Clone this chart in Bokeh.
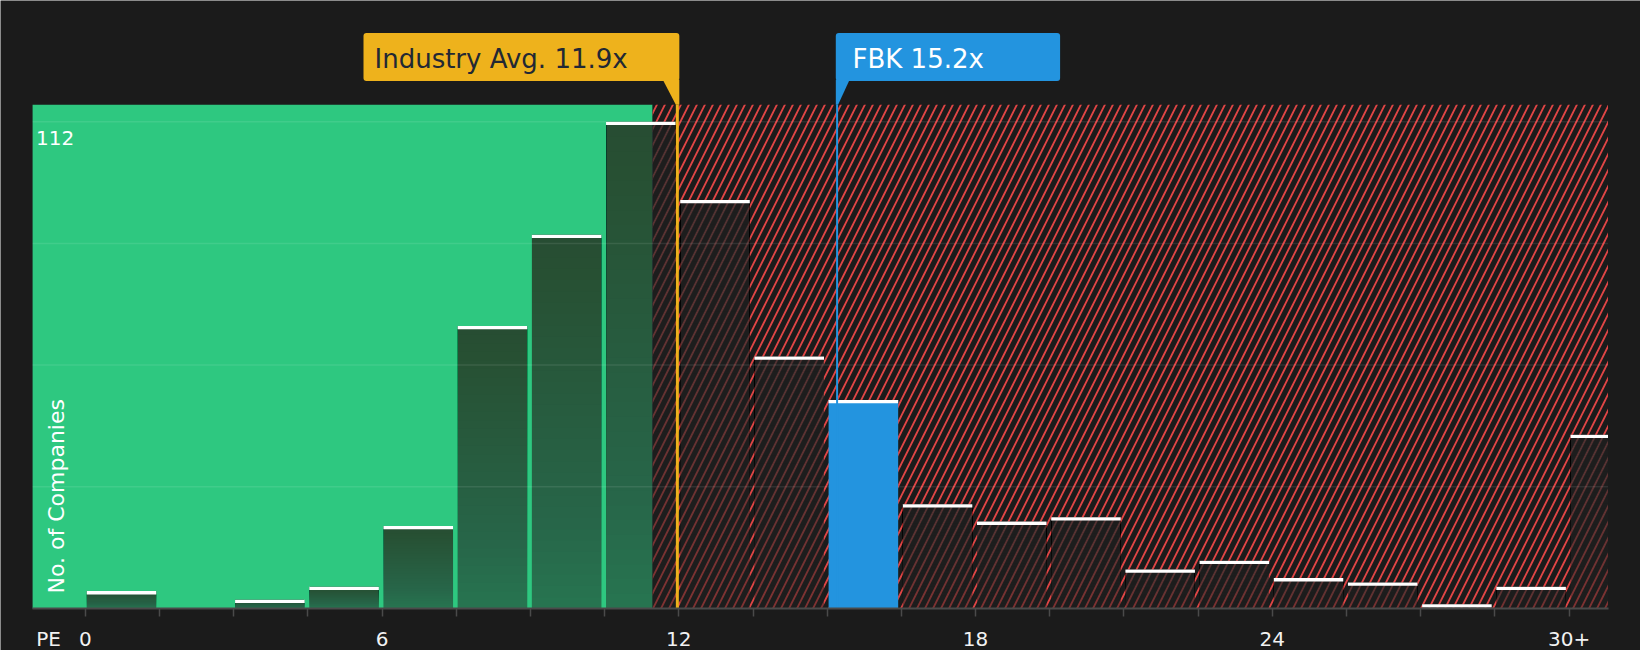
import numpy as np
from bokeh.plotting import figure
from bokeh.models import FixedTicker, Range1d, Label, BoxAnnotation
from bokeh.embed import file_html
from bokeh.resources import INLINE

# ---------------- data ----------------
bin_starts = [0, 1.5, 3, 4.5, 6, 7.5, 9, 10.5, 12, 13.5, 15, 16.5, 18, 19.5,
              21, 22.5, 24, 25.5, 27, 28.5, 30]
counts = [4, 0, 2, 5, 19, 65, 86, 112, 94, 58, 48, 24, 20, 21,
          9, 11, 7, 6, 1, 5, 40]
company_bin = 10                      # bin holding FBK (15 - 16.5)
tick_values = [0, 6, 12, 18, 24, 30]
tick_labels = ["0", "6", "12", "18", "24", "30+"]
edge_ticks = [0, 1.5, 3, 4.5, 6, 7.5, 9, 10.5, 12, 13.5, 15, 16.5, 18, 19.5,
              21, 22.5, 24, 25.5, 27, 28.5, 30]
grid_values = [28, 56, 84, 112]
y_max_label = "112"
industry_avg = 11.97
industry_text = "Industry Avg. 11.9x"
company_pe = 15.2
company_text = "FBK 15.2x"
fair_zone_end = 11.47                 # end of green zone
y_title = "No. of Companies"
x_title = "PE"

# ---------------- layout constants ----------------
W, H = 1640, 650
PXX = 49.46                      # px per PE unit
PXY = 4.346                      # px per company
X0 = 84.8                        # px of PE = 0
BASE_Y = 608                     # px of the x axis


def xpx(px):   # pixel x -> data x
    return (px - X0) / PXX


def ypx(py):   # pixel y -> data y
    return (BASE_Y - py) / PXY


area_left = xpx(32.1)
area_right = xpx(1607.5)
area_top = 115.9
x_title_pos = xpx(48.0)

BG = "#1b1b1b"
GREEN = "#2ec880"
RED = "#e04545"
GOLD = "#eeb21c"
BLUE = "#2394df"
AXIS = "#4a4a4a"

p = figure(width=W, height=H, output_backend="svg", toolbar_location=None,
           x_range=Range1d(xpx(0), xpx(W)), y_range=Range1d(ypx(H), ypx(0)),
           y_axis_location=None, min_border_left=0, min_border_right=0,
           min_border_top=0, min_border_bottom=0)
p.background_fill_color = BG
p.border_fill_color = BG
p.outline_line_color = None
p.grid.visible = False

# plot area backgrounds
p.quad(left=[area_left], right=[fair_zone_end], bottom=[0], top=[area_top],
       fill_color=GREEN, line_color=None)
p.quad(left=[fair_zone_end], right=[area_right], bottom=[0], top=[area_top],
       fill_color=BG, line_color=None, hatch_pattern="/", hatch_color=RED,
       hatch_scale=16, hatch_weight=1.8, hatch_alpha=1.0)

starts = np.array(bin_starts, dtype=float)
h = np.array(counts, dtype=float)
left = starts + 1.4 / PXX
right = np.minimum(starts + 1.5 - 3.2 / PXX, area_right)
idx = np.array([i for i in range(len(counts)) if i != company_bin])

# dark translucent bars with vertical gradient (lighter at the bottom)
base_alpha, top_alpha, N = 0.50, 0.75, 32
layer_alpha = 1 - ((1 - top_alpha) / (1 - base_alpha)) ** (1.0 / N)
p.quad(left=left[idx], right=right[idx], bottom=0, top=h[idx],
       fill_color="#1f1f1f", fill_alpha=base_alpha, line_color=None)
for k in range(N):
    p.quad(left=left[idx], right=right[idx], bottom=h[idx] * (k + 1) / (N + 1),
           top=h[idx], fill_color="#1f1f1f", fill_alpha=layer_alpha,
           line_color=None)

# grid lines
p.segment(x0=area_left, x1=area_right, y0=grid_values, y1=grid_values,
          line_color="#ffffff", line_alpha=0.09, line_width=1.5)

# company bar
p.quad(left=[left[company_bin]], right=[right[company_bin]], bottom=[0],
       top=[h[company_bin]], fill_color=BLUE, line_color=None)

# white caps
nz = h > 0
p.quad(left=left[nz], right=right[nz], bottom=h[nz] - 3.3 / PXY, top=h[nz],
       fill_color="#ffffff", line_color=None)

# marker lines
p.segment(x0=[industry_avg], x1=[industry_avg], y0=[0], y1=[area_top],
          line_color=GOLD, line_width=3)
p.segment(x0=[company_pe], x1=[company_pe], y0=[0], y1=[area_top],
          line_color=BLUE, line_width=2)

# callout pointers
box_top, box_bot = ypx(32.4), ypx(80.5)
p.patch(x=[industry_avg - 14.5 / PXX, industry_avg + 2.0 / PXX,
           industry_avg + 2.0 / PXX, industry_avg - 1.5 / PXX],
        y=[box_bot + 0.3, box_bot + 0.3, area_top, area_top],
        fill_color=GOLD, line_color=None)
p.patch(x=[company_pe - 1.3 / PXX, company_pe + 12.5 / PXX,
           company_pe + 1.0 / PXX, company_pe - 1.3 / PXX],
        y=[box_bot + 0.3, box_bot + 0.3, area_top, area_top],
        fill_color=BLUE, line_color=None)

# callout boxes and texts
p.add_layout(BoxAnnotation(left=xpx(363), right=industry_avg + 2.0 / PXX,
                           bottom=box_bot, top=box_top, fill_color=GOLD,
                           fill_alpha=1, line_color=None, border_radius=3))
p.add_layout(BoxAnnotation(left=company_pe - 1.3 / PXX, right=xpx(1059.6),
                           bottom=box_bot, top=box_top, fill_color=BLUE,
                           fill_alpha=1, line_color=None, border_radius=3))
text_base = ypx(58.5)
p.add_layout(Label(x=xpx(374.0), y=text_base, text=industry_text,
                   text_font="DejaVu Sans", text_font_size="26px",
                   text_color="#222834", text_baseline="alphabetic"))
p.add_layout(Label(x=xpx(852.0), y=text_base, text=company_text,
                   text_font="DejaVu Sans", text_font_size="26px",
                   text_color="#ffffff", text_baseline="alphabetic"))

# inner y labels
p.add_layout(Label(x=xpx(35.5), y=ypx(137.0), text=y_max_label,
                   text_font="DejaVu Sans", text_font_size="20px",
                   text_color="#ffffff", text_baseline="alphabetic"))
p.add_layout(Label(x=xpx(55.5), y=ypx(593.0), text=y_title, angle=np.pi / 2,
                   text_font="DejaVu Sans", text_font_size="22px",
                   text_color="#ffffff", text_baseline="alphabetic",
                   text_align="left"))

# x axis at PE baseline: labelled major ticks (marks hidden), bin-edge minor ticks
ax = p.xaxis[0]
ax.fixed_location = 0
ax.ticker = FixedTicker(ticks=[x_title_pos] + tick_values, minor_ticks=edge_ticks)
overrides = {t: s for t, s in zip(tick_values, tick_labels)}
overrides[x_title_pos] = x_title
ax.major_label_overrides = overrides
ax.bounds = (area_left, area_right)
ax.axis_line_color = AXIS
ax.axis_line_width = 2
ax.major_tick_line_color = None
ax.minor_tick_line_color = AXIS
ax.minor_tick_line_width = 1.5
ax.major_tick_in = 0
ax.minor_tick_in = 0
ax.major_tick_out = 8
ax.minor_tick_out = 8
ax.major_label_standoff = 10
ax.major_label_text_font = "DejaVu Sans"
ax.major_label_text_font_size = "20px"
ax.major_label_text_color = "#f2f2f2"

open("out.html", "w").write(file_html(p, INLINE, title="PE distribution"))
